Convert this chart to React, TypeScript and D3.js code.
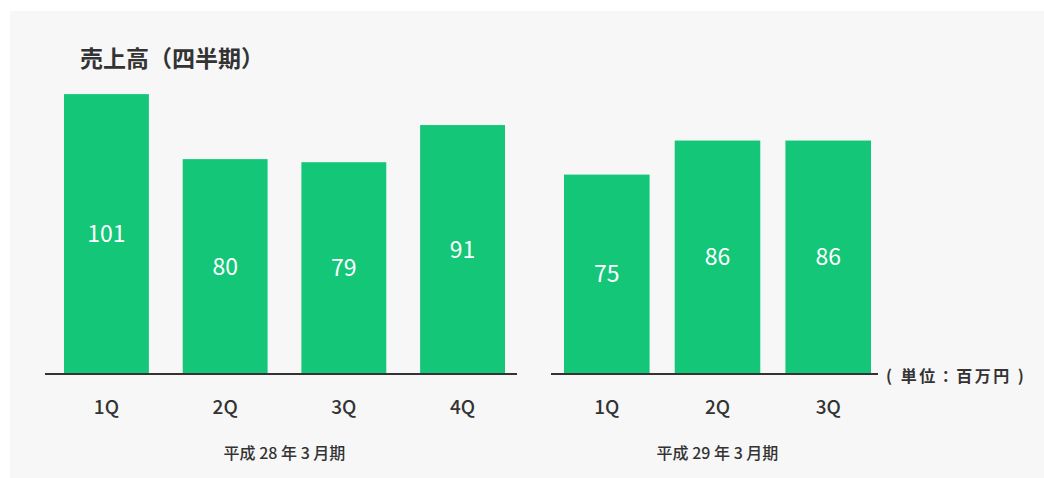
import * as d3 from "d3";

const quartersA = ["1Q", "2Q", "3Q", "4Q"];
const valuesA = [101, 80, 79, 91];
const quartersB = ["1Q", "2Q", "3Q"];
const valuesB = [75, 86, 86];
const periodA = "平成 28 年 3 月期";
const periodB = "平成 29 年 3 月期";
const title = "売上高（四半期）";
const unit = "( 単位：百万円 )";

const W = 1044;
const H = 478;
const green = "#13c678";
const ink = "#333333";
const font = "'Noto Sans CJK JP', 'Noto Sans', sans-serif";

const baseline = 374;
// the bars in the source do not start from zero
const y = d3.scaleLinear().domain([10.6, 100]).range([baseline, 97.2]);

const groups = [
  { cats: quartersA, vals: valuesA, period: periodA, bars: [64, 505], axis: [45, 517] },
  { cats: quartersB, vals: valuesB, period: periodB, bars: [564, 871], axis: [551, 878] },
];

export default function App() {
  return (
    <svg
      width={W}
      height={H}
      viewBox={`0 0 ${W} ${H}`}
      style={{ position: "absolute", left: 0, top: 0, display: "block" }}
      fontFamily={font}
    >
      <rect x={0} y={0} width={W} height={H} fill="#ffffff" />
      <rect x={10} y={11} width={W - 10} height={H - 11} fill="#f7f7f7" />
      <text x={80} y={67} fontSize={23} fontWeight={700} fill={ink}>
        {title}
      </text>
      {groups.map((g, gi) => {
        const x = d3
          .scaleBand<string>()
          .domain(g.cats)
          .range(g.bars as [number, number])
          .paddingInner(g.cats.length === 4 ? 0.285 : 0.227)
          .paddingOuter(0);
        const mid = (g.bars[0] + g.bars[1]) / 2;
        return (
          <g key={gi}>
            {g.cats.map((c, i) => {
              const x0 = x(c) ?? 0;
              const top = y(g.vals[i]);
              const cx = x0 + x.bandwidth() / 2;
              return (
                <g key={c}>
                  <rect x={x0} y={top} width={x.bandwidth()} height={baseline - 1 - top} fill={green} />
                  <text
                    x={cx}
                    y={(top + baseline) / 2 - 2}
                    textAnchor="middle"
                    dominantBaseline="central"
                    fontSize={23}
                    fontWeight={400}
                    fill="#ffffff"
                  >
                    {g.vals[i]}
                  </text>
                  <text
                    x={cx}
                    y={405}
                    textAnchor="middle"
                    dominantBaseline="central"
                    fontSize={19}
                    fontWeight={500}
                    fill={ink}
                  >
                    {c}
                  </text>
                </g>
              );
            })}
            <line x1={g.axis[0]} x2={g.axis[1]} y1={baseline} y2={baseline} stroke={ink} strokeWidth={2} />
            <text
              x={mid}
              y={452}
              textAnchor="middle"
              dominantBaseline="central"
              fontSize={16}
              fontWeight={500}
              fill={ink}
            >
              {g.period}
            </text>
          </g>
        );
      })}
      <text
        x={886}
        y={375}
        dominantBaseline="central"
        fontSize={16}
        fontWeight={700}
        letterSpacing={2.5}
        fill={ink}
      >
        {unit}
      </text>
    </svg>
  );
}
